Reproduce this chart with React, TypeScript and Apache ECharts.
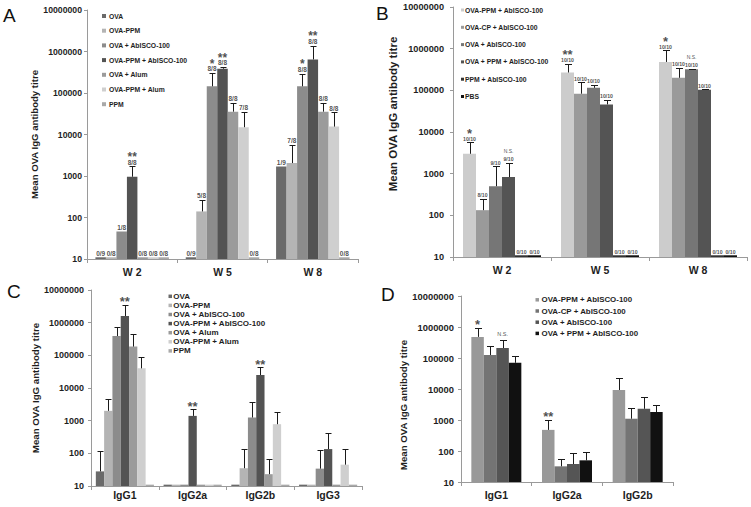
import React, { useEffect, useRef } from "react";
import * as echarts from "echarts";

const FONT = "'Liberation Sans', Arial, Helvetica, sans-serif";
const TXT = "#1e1e1e";
const AX = "#9a9a9a";
const ERR = "#1a1a1a";

// ---------- shared ----------
const yTickLabels = ["10", "100", "1000", "10000", "100000", "1000000", "10000000"];
const yTitle = "Mean OVA IgG antibody titre";

// ---------- Panel A ----------
const weeks = ["W 2", "W 5", "W 8"];
const groupsA = ["OVA", "OVA-PPM", "OVA + AbISCO-100", "OVA-PPM + AbISCO-100", "OVA + Alum", "OVA-PPM + Alum", "PPM"];
const colorsA = ["#6a6a6a", "#b4b4b4", "#8c8c8c", "#535353", "#9b9b9b", "#cfcfcf", "#a9a9a9"];
const meanA = [
  [11, 11, 1700],
  [11, 140, 2050],
  [46, 145000, 145000],
  [960, 385000, 645000],
  [11, 35500, 35500],
  [11, 15000, 15500],
  [11, 11, 11],
];
const upperA = [
  [11, 11, 1700],
  [11, 265, 5700],
  [46, 300000, 290000],
  [1700, 420000, 1370000],
  [11, 59000, 59000],
  [11, 35500, 34000],
  [11, 11, 11],
];
const respA = [
  ["0/9", "0/9", "1/9"],
  ["0/8", "5/8", "7/8"],
  ["1/8", "8/8", "8/8"],
  ["8/8", "8/8", "8/8"],
  ["0/8", "8/8", "8/8"],
  ["0/8", "7/8", "8/8"],
  ["0/8", "0/8", "0/8"],
];
const sigA = [
  ["", "", ""],
  ["", "", ""],
  ["", "*", "*"],
  ["**", "**", "**"],
  ["", "", ""],
  ["", "", ""],
  ["", "", ""],
];

// ---------- Panel B ----------
const groupsB = ["OVA-PPM + AbISCO-100", "OVA-CP + AbISCO-100", "OVA + AbISCO-100", "OVA + PPM + AbISCO-100", "PPM + AbISCO-100", "PBS"];
const colorsB = ["#cccccc", "#9a9a9a", "#767676", "#545454", "#333333", "#111111"];
const meanB = [
  [3000, 268000, 480000],
  [133, 83000, 200000],
  [500, 115000, 320000],
  [830, 46000, 103000],
  [11, 11, 11],
  [11, 11, 11],
];
const upperB = [
  [5700, 440000, 910000],
  [250, 155000, 345000],
  [1500, 138000, 330000],
  [1800, 60000, 107000],
  [11, 11, 11],
  [11, 11, 11],
];
const respB = [
  ["10/10", "10/10", "10/10"],
  ["8/10", "10/10", "10/10"],
  ["9/10", "10/10", "10/10"],
  ["9/10", "10/10", "10/10"],
  ["0/10", "0/10", "0/10"],
  ["0/10", "0/10", "0/10"],
];
const sigB = [
  ["*", "**", "*"],
  ["", "", ""],
  ["", "", "N.S."],
  ["N.S.", "", ""],
  ["", "", ""],
  ["", "", ""],
];

// ---------- Panel C ----------
const isotypesC = ["IgG1", "IgG2a", "IgG2b", "IgG3"];
const meanC = [
  [28, 11, 11, 11],
  [2000, 11, 35, 11],
  [390000, 11, 1250, 34],
  [1600000, 1400, 25000, 135],
  [185000, 11, 23, 11],
  [40000, 11, 780, 45],
  [11, 11, 11, 11],
];
const upperC = [
  [115, 11, 11, 11],
  [4700, 11, 138, 11],
  [720000, 11, 3800, 125],
  [3500000, 2240, 43000, 420],
  [440000, 11, 66, 11],
  [87000, 11, 1900, 140],
  [11, 11, 11, 11],
];
const sigC = [
  ["", "", "", ""],
  ["", "", "", ""],
  ["", "", "", ""],
  ["**", "**", "**", ""],
  ["", "", "", ""],
  ["", "", "", ""],
  ["", "", "", ""],
];

// ---------- Panel D ----------
const isotypesD = ["IgG1", "IgG2a", "IgG2b"];
const groupsD = ["OVA-PPM + AbISCO-100", "OVA-CP + AbISCO-100", "OVA + AbISCO-100", "OVA + PPM + AbISCO-100"];
const colorsD = ["#999999", "#747474", "#555555", "#111111"];
const meanD = [
  [480000, 480, 9300],
  [125000, 32, 1100],
  [210000, 38, 2300],
  [70000, 50, 1800],
];
const upperD = [
  [950000, 1000, 23000],
  [245000, 55, 2400],
  [375000, 85, 5600],
  [115000, 95, 3100],
];
const sigD = [
  ["*", "**", ""],
  ["", "", ""],
  ["N.S.", "", ""],
  ["", "", ""],
];

type PanelCfg = {
  cats: string[];
  groups: string[];
  colors: string[];
  mean: number[][];
  upper: number[][];
  resp: string[][] | null;
  sig: string[][];
  grid: { left: number; top: number; width: number; height: number };
  barWidth: number;
  capW: number;
  fracFs: number;
  starFs: number;
  nsFs: number;
  tickFs: number;
  tickMargin: number;
  xMargin: number;
  nameFs: number;
  nameGap: number;
  namePad: number[];
  legend: { left: number; top: number; fs: number; lh: number; gap: number; iw: number; pad: number };
};

const panels: PanelCfg[] = [
  {
    cats: weeks, groups: groupsA, colors: colorsA, mean: meanA, upper: upperA, resp: respA, sig: sigA,
    grid: { left: 87, top: 10, width: 271, height: 249 },
    barWidth: 10.5, capW: 6, fracFs: 6.5, starFs: 12, nsFs: 5.5, tickFs: 8.7, tickMargin: 5, xMargin: 7,
    nameFs: 9.6, nameGap: 40, namePad: [0, 0, 0, 0],
    legend: { left: 102, top: 11.5, fs: 6.8, lh: 9, gap: 5.7, iw: 4, pad: -2 },
  },
  {
    cats: weeks, groups: groupsB, colors: colorsB, mean: meanB, upper: upperB, resp: respB, sig: sigB,
    grid: { left: 453, top: 7, width: 294, height: 250 },
    barWidth: 13, capW: 7, fracFs: 5.2, starFs: 13, nsFs: 5, tickFs: 9.2, tickMargin: 9, xMargin: 7,
    nameFs: 11.5, nameGap: 36, namePad: [0, 0, 0, 36],
    legend: { left: 461, top: 5.5, fs: 6.8, lh: 9, gap: 8.3, iw: 3, pad: -4 },
  },
  {
    cats: isotypesC, groups: groupsA, colors: colorsA, mean: meanC, upper: upperC, resp: null, sig: sigC,
    grid: { left: 91, top: 290, width: 271, height: 196 },
    barWidth: 8.3, capW: 6, fracFs: 7, starFs: 13, nsFs: 5.5, tickFs: 9, tickMargin: 7, xMargin: 3,
    nameFs: 9.7, nameGap: 48, namePad: [0, 0, 0, 0],
    legend: { left: 168.5, top: 291.8, fs: 8, lh: 9, gap: 0.1, iw: 3.5, pad: -3.7 },
  },
  {
    cats: isotypesD, groups: groupsD, colors: colorsD, mean: meanD, upper: upperD, resp: null, sig: sigD,
    grid: { left: 461, top: 296, width: 212, height: 186 },
    barWidth: 12.5, capW: 7, fracFs: 7, starFs: 13, nsFs: 5.5, tickFs: 9.4, tickMargin: 7, xMargin: 7,
    nameFs: 9.7, nameGap: 44, namePad: [0, 32, 0, 0],
    legend: { left: 535.5, top: 294.8, fs: 7.9, lh: 10, gap: 1.2, iw: 3.5, pad: -2.5 },
  },
];

function buildOption() {
  const grid: any[] = [];
  const xAxis: any[] = [];
  const yAxis: any[] = [];
  const legend: any[] = [];
  const series: any[] = [];

  panels.forEach((p, pi) => {
    grid.push({ ...p.grid });
    xAxis.push({
      type: "category",
      gridIndex: pi,
      data: p.cats,
      axisLine: { lineStyle: { color: AX, width: 1 } },
      axisTick: { show: true, length: 4, lineStyle: { color: AX } },
      axisLabel: { margin: p.xMargin, fontSize: 10.5, fontWeight: "bold", fontFamily: FONT, color: TXT },
    });
    yAxis.push({
      type: "log",
      logBase: 10,
      gridIndex: pi,
      min: 10,
      max: 10000000,
      splitNumber: 6,
      splitLine: { show: false },
      axisLine: { show: true, lineStyle: { color: AX, width: 1 } },
      axisTick: { show: true, length: 3, lineStyle: { color: AX } },
      axisLabel: {
        margin: p.tickMargin,
        fontSize: p.tickFs,
        fontWeight: "bold",
        fontFamily: FONT,
        color: TXT,
        formatter: (v: number) => yTickLabels[Math.round(Math.log10(v)) - 1] ?? String(Math.round(v)),
      },
      name: yTitle,
      nameLocation: "middle",
      nameRotate: 90,
      nameGap: p.nameGap,
      nameTextStyle: { fontSize: p.nameFs, fontWeight: "bold", fontFamily: FONT, color: TXT, padding: p.namePad },
    });
    legend.push({
      orient: "vertical",
      left: p.legend.left,
      top: p.legend.top,
      padding: 0,
      itemGap: p.legend.gap,
      itemWidth: p.legend.iw,
      itemHeight: p.legend.iw,
      icon: "rect",
      selectedMode: false,
      data: p.groups.map((n, i) => ({ name: n, itemStyle: { color: p.colors[i] } })),
      textStyle: {
        fontSize: p.legend.fs,
        fontWeight: "bold",
        fontFamily: FONT,
        color: TXT,
        lineHeight: p.legend.lh,
        padding: [0, 0, 0, p.legend.pad],
      },
    });

    p.groups.forEach((g, gi) => {
      series.push({
        type: "bar",
        name: g,
        xAxisIndex: pi,
        yAxisIndex: pi,
        data: p.mean[gi],
        barWidth: p.barWidth,
        barGap: "0%",
        clip: true,
        silent: true,
        itemStyle: { color: p.colors[gi] },
      });
    });

    const n = p.groups.length;
    const items: any[] = [];
    p.groups.forEach((_, gi) => {
      p.cats.forEach((__, ci) => {
        items.push({
          g: gi,
          c: ci,
          m: p.mean[gi][ci],
          u: p.upper[gi][ci],
          dx: (gi - (n - 1) / 2) * p.barWidth,
          frac: p.resp ? p.resp[gi][ci] : "",
          sig: p.sig[gi][ci],
        });
      });
    });

    // error bars (upper whisker + cap)
    series.push({
      type: "custom",
      name: "err" + pi,
      xAxisIndex: pi,
      yAxisIndex: pi,
      coordinateSystem: "cartesian2d",
      silent: true,
      clip: false,
      z: 5,
      encode: { x: 0, y: 1 },
      data: items.map((it) => [it.c, it.u]),
      renderItem: (params: any, api: any) => {
        const it = items[params.dataIndex];
        if (!(it.u > it.m * 1.02)) return { type: "group", children: [] };
        const base = api.coord([it.c, it.m]);
        const top = api.coord([it.c, it.u]);
        const lx = Math.round(base[0] + it.dx) + 0.5;
        const ty = Math.round(top[1]) + 0.5;
        return {
          type: "group",
          children: [
            { type: "line", shape: { x1: lx, y1: base[1], x2: lx, y2: ty }, style: { stroke: ERR, lineWidth: 1, fill: "none" } },
            {
              type: "line",
              shape: { x1: lx - p.capW / 2, y1: ty, x2: lx + p.capW / 2, y2: ty },
              style: { stroke: ERR, lineWidth: 1, fill: "none" },
            },
          ],
        };
      },
    });

    const labelBase = { show: true, position: "inside", color: TXT, fontFamily: FONT, fontWeight: "bold" };
    const fracCenter = -(p.fracFs * 0.5 + 1);

    // responder fractions
    const fracItems = items.filter((it) => it.frac);
    if (fracItems.length) {
      series.push({
        type: "scatter",
        name: "resp" + pi,
        xAxisIndex: pi,
        yAxisIndex: pi,
        symbol: "circle",
        symbolSize: 0.01,
        itemStyle: { color: "rgba(0,0,0,0)" },
        silent: true,
        z: 6,
        label: { ...labelBase, fontSize: p.fracFs, formatter: (q: any) => q.name },
        data: fracItems.map((it) => ({
          name: it.frac,
          value: [it.c, it.u],
          label: { offset: [it.dx, fracCenter] },
        })),
      });
    }

    // significance marks
    const sigItems = items.filter((it) => it.sig);
    series.push({
      type: "scatter",
      name: "sig" + pi,
      xAxisIndex: pi,
      yAxisIndex: pi,
      symbol: "circle",
      symbolSize: 0.01,
      itemStyle: { color: "rgba(0,0,0,0)" },
      silent: true,
      z: 7,
      label: { ...labelBase, formatter: (q: any) => q.name },
      data: sigItems.map((it) => {
        const isNS = it.sig === "N.S.";
        const fs = isNS ? p.nsFs : p.starFs;
        const glyphC = it.frac ? fracCenter - 8 : -6;
        const dy = isNS ? glyphC : glyphC + 0.23 * fs;
        return {
          name: it.sig,
          value: [it.c, it.u],
          label: { offset: [it.dx, dy], fontSize: fs, fontWeight: isNS ? "normal" : "bold" },
        };
      }),
    });
  });

  const letters = [
    { t: "A", x: 3, y: 6 },
    { t: "B", x: 376, y: 4 },
    { t: "C", x: 7, y: 282 },
    { t: "D", x: 381, y: 285 },
  ];

  return {
    animation: false,
    backgroundColor: "#ffffff",
    grid,
    xAxis,
    yAxis,
    legend,
    series,
    graphic: letters.map((l) => ({
      type: "text",
      left: l.x,
      top: l.y,
      style: { text: l.t, fontSize: 19, fontFamily: FONT, fill: "#111" },
    })),
  };
}

export default function App() {
  const ref = useRef<HTMLDivElement>(null);
  useEffect(() => {
    if (!ref.current) return;
    const chart = echarts.init(ref.current, undefined, { renderer: "svg" });
    chart.setOption(buildOption() as any);
    return () => chart.dispose();
  }, []);
  return (
    <div
      ref={ref}
      style={{ position: "absolute", left: 0, top: 0, width: 751, height: 507, background: "#fff" }}
    />
  );
}
